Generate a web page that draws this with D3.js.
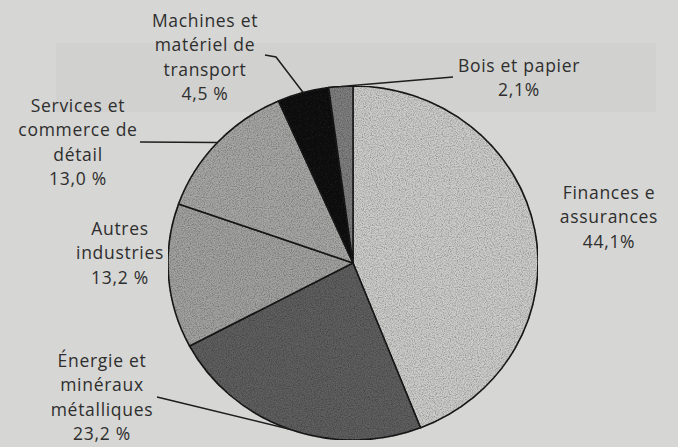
<!DOCTYPE html>
<html lang="fr">
<head>
<meta charset="utf-8">
<script src="https://cdn.jsdelivr.net/npm/d3@7"></script>
<style>
  html, body { margin: 0; padding: 0; background: #d6d6d4; }
  svg { display: block; }
  text { font-family: "Open Sans", "Noto Sans", sans-serif; fill: #2e2e2e; }
</style>
</head>
<body>
<svg id="chart" width="678" height="447"></svg>
<script>
// Répartition par secteur (%)
const categories = [
  "Finances et assurances",
  "Énergie et minéraux métalliques",
  "Autres industries",
  "Services et commerce de détail",
  "Machines et matériel de transport",
  "Bois et papier"
];
const shares = [44.1, 23.2, 13.2, 13.0, 4.5, 2.1];
const shareLabels = ["44,1%", "23,2 %", "13,2 %", "13,0 %", "4,5 %", "2,1%"];
// Lignes de texte de chaque étiquette (sans le pourcentage)
const labelLines = [
  ["Finances e", "assurances"],
  ["Énergie et", "minéraux", "métalliques"],
  ["Autres", "industries"],
  ["Services et", "commerce de", "détail"],
  ["Machines et", "matériel de", "transport"],
  ["Bois et papier"]
];
const fills = ["#cdcdcb", "#616161", "#a3a3a2", "#a7a7a6", "#141414", "#808080"];

const svg = d3.select("#chart");
const W = 678, H = 447;
const cx = 353, cy = 263, rx = 185, ry = 177;

// Grain d'impression léger sur les secteurs
const defs = svg.append("defs");
const grain = defs.append("filter").attr("id", "grain")
  .attr("x", 0).attr("y", 0).attr("width", 1).attr("height", 1);
grain.append("feTurbulence").attr("type", "fractalNoise")
  .attr("baseFrequency", 0.9).attr("numOctaves", 2).attr("seed", 3).attr("result", "noise");
grain.append("feColorMatrix").attr("in", "noise").attr("type", "matrix")
  .attr("values", "0 0 0 0 0  0 0 0 0 0  0 0 0 0 0  0 0 0 1.1 -0.4").attr("result", "dots");
grain.append("feComposite").attr("in", "dots").attr("in2", "SourceGraphic")
  .attr("operator", "in").attr("result", "clipped");
const merge = grain.append("feMerge");
merge.append("feMergeNode").attr("in", "SourceGraphic");
merge.append("feMergeNode").attr("in", "clipped");

// Fond de page
svg.append("rect").attr("width", W).attr("height", H).attr("fill", "#d6d6d4");
svg.append("rect").attr("x", 56).attr("y", 43).attr("width", 600).attr("height", 69)
  .attr("fill", "#d1d1cf");

const pie = d3.pie().sort(null).value(d => d)(shares);
const arc = d3.arc().innerRadius(0).outerRadius(ry);

// Point du contour elliptique pour un angle donné (0 = haut, sens horaire)
const edge = a => [cx + rx * Math.sin(a), cy - ry * Math.cos(a)];

const g = svg.append("g")
  .attr("transform", `translate(${cx},${cy}) scale(${rx / ry},1)`)
  .attr("filter", "url(#grain)");

g.selectAll("path.slice").data(pie).join("path")
  .attr("class", "slice")
  .attr("d", arc)
  .attr("fill", (d, i) => fills[i])
  .attr("stroke", "#1e1e1e")
  .attr("stroke-width", 1.6)
  .attr("vector-effect", "non-scaling-stroke")
  .attr("stroke-linejoin", "round");

// Étiquettes : position du bloc de texte et point de départ du trait de rappel
const labelPos = [
  { x: 609, y: 199, lead: null },
  { x: 102, y: 367, lead: [[157, 397]] },
  { x: 120, y: 235, lead: null },
  { x: 78, y: 112, lead: [[140, 142]] },
  { x: 205, y: 27, lead: [[265, 55], [276, 57]] },
  { x: 519, y: 72, lead: [[453, 77]] }
];
const lineH = 24.3;

pie.forEach((d, i) => {
  const p = labelPos[i];
  const lines = labelLines[i].concat([shareLabels[i]]);
  const t = svg.append("text")
    .attr("text-anchor", "middle")
    .attr("font-size", 17.5)
    .attr("letter-spacing", 0.7);
  lines.forEach((s, k) => {
    t.append("tspan").attr("x", p.x).attr("y", p.y + k * lineH).text(s);
  });
  if (p.lead) {
    const mid = (d.startAngle + d.endAngle) / 2;
    const pts = p.lead.concat([edge(mid)]);
    svg.append("path")
      .attr("d", d3.line()(pts))
      .attr("fill", "none")
      .attr("stroke", "#1e1e1e")
      .attr("stroke-width", 1.5);
  }
});
</script>
</body>
</html>
